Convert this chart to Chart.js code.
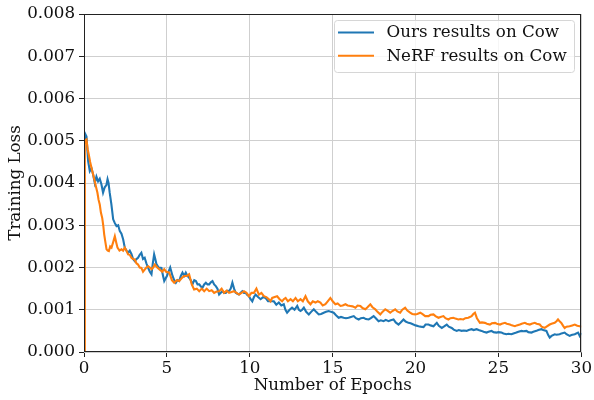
<!DOCTYPE html>
<html>
<head>
<meta charset="utf-8">
<script src="https://cdn.jsdelivr.net/npm/chart.js@4/dist/chart.umd.min.js"></script>
<style>
  html, body { margin: 0; padding: 0; background: #fff; }
  canvas { display: block; }
</style>
</head>
<body>
<canvas id="c" width="594" height="400"></canvas>
<script>
// ---- data (epoch, training loss) ----
const seriesLabels = ["Ours results on Cow", "NeRF results on Cow"];
const xTicks = [0, 5, 10, 15, 20, 25, 30];
const yTicks = [0, 0.001, 0.002, 0.003, 0.004, 0.005, 0.006, 0.007, 0.008];

const oursLoss = [
[0,0.0050],[0.05,0.00518],[0.15,0.0051],[0.25,0.00452],[0.35,0.00428],[0.45,0.00435],[0.55,0.0042],[0.65,0.0040],[0.75,0.00415],[0.85,0.00404],[0.95,0.0041],[1.05,0.00397],[1.15,0.00377],[1.25,0.0039],[1.35,0.00395],[1.42,0.00409],[1.48,0.0040],[1.55,0.00377],[1.65,0.0035],[1.76,0.00314],[1.86,0.00305],[1.96,0.00298],[2.06,0.0030],[2.16,0.00286],[2.26,0.0028],[2.36,0.00267],[2.46,0.00247],[2.56,0.0024],[2.66,0.00235],[2.76,0.0024],[2.86,0.00232],[2.96,0.0022],[3.06,0.00215],[3.16,0.0022],[3.26,0.00223],[3.36,0.0023],[3.46,0.00235],[3.56,0.0022],[3.66,0.00223],[3.76,0.0021],[3.87,0.00199],[3.97,0.0019],[4.07,0.00184],[4.15,0.0021],[4.23,0.00231],[4.3,0.0022],[4.37,0.00208],[4.5,0.0020],[4.67,0.00199],[4.77,0.0018],[4.84,0.00168],[5.0,0.0018],[5.1,0.0019],[5.2,0.0020],[5.34,0.0018],[5.44,0.0017],[5.54,0.00164],[5.64,0.0017],[5.74,0.00168],[5.84,0.0018],[5.94,0.00188],[6.04,0.0018],[6.14,0.00188],[6.24,0.0018],[6.34,0.00176],[6.44,0.0017],[6.54,0.0016],[6.65,0.0017],[6.75,0.00168],[6.85,0.0016],[6.95,0.0016],[7.05,0.00155],[7.14,0.00152],[7.25,0.0016],[7.35,0.00164],[7.45,0.0016],[7.55,0.0016],[7.65,0.00165],[7.75,0.00168],[7.85,0.0016],[7.95,0.00156],[8.05,0.0015],[8.15,0.00136],[8.25,0.0014],[8.35,0.00144],[8.45,0.0014],[8.55,0.0014],[8.65,0.00145],[8.75,0.00144],[8.85,0.0015],[8.95,0.00164],[9.05,0.0015],[9.15,0.0014],[9.25,0.00138],[9.35,0.00136],[9.45,0.0014],[9.55,0.00144],[9.65,0.0014],[9.75,0.0014],[9.85,0.00135],[9.95,0.00132],[10.05,0.00125],[10.15,0.0012],[10.25,0.0013],[10.35,0.00136],[10.5,0.0013],[10.65,0.00125],[10.8,0.0013],[10.95,0.00128],[11.1,0.0012],[11.25,0.0012],[11.45,0.0012],[11.6,0.00112],[11.75,0.00117],[11.9,0.0011],[12.05,0.00113],[12.15,0.001],[12.25,0.00093],[12.4,0.001],[12.55,0.00105],[12.7,0.001],[12.86,0.00109],[12.96,0.001],[13.06,0.00097],[13.16,0.001],[13.26,0.00105],[13.4,0.00095],[13.56,0.00089],[13.7,0.00095],[13.86,0.00101],[14.0,0.00095],[14.16,0.00089],[14.3,0.0009],[14.46,0.00093],[14.6,0.00095],[14.76,0.00097],[14.9,0.00095],[15.06,0.00093],[15.2,0.00087],[15.36,0.00081],[15.5,0.00083],[15.66,0.00081],[15.8,0.0008],[15.96,0.00081],[16.1,0.00083],[16.27,0.00085],[16.4,0.0008],[16.57,0.00077],[16.7,0.0008],[16.87,0.00081],[17.0,0.00078],[17.17,0.00077],[17.3,0.0008],[17.47,0.00085],[17.6,0.0008],[17.77,0.00073],[17.9,0.00075],[18.07,0.00073],[18.2,0.00076],[18.37,0.00073],[18.5,0.00075],[18.67,0.00077],[18.8,0.0007],[18.97,0.00065],[19.1,0.0007],[19.27,0.00077],[19.4,0.00072],[19.57,0.00069],[19.7,0.00068],[19.87,0.00065],[20.0,0.00063],[20.18,0.00061],[20.3,0.0006],[20.48,0.00059],[20.6,0.00065],[20.78,0.00065],[20.9,0.00063],[21.08,0.00061],[21.18,0.00065],[21.28,0.00069],[21.4,0.00062],[21.58,0.00057],[21.7,0.0006],[21.88,0.00065],[22.0,0.0006],[22.18,0.00057],[22.3,0.00053],[22.48,0.0005],[22.6,0.00052],[22.78,0.0005],[22.9,0.00051],[23.08,0.0005],[23.2,0.00052],[23.38,0.00054],[23.5,0.00052],[23.68,0.00054],[23.8,0.00052],[23.98,0.0005],[24.1,0.00048],[24.28,0.00046],[24.4,0.00048],[24.58,0.0005],[24.7,0.00047],[24.88,0.00046],[25.0,0.00047],[25.18,0.00046],[25.3,0.00044],[25.48,0.00042],[25.6,0.00043],[25.78,0.00042],[25.9,0.00044],[26.08,0.00046],[26.2,0.00048],[26.39,0.0005],[26.5,0.00049],[26.69,0.0005],[26.8,0.00047],[26.99,0.00046],[27.1,0.00048],[27.29,0.0005],[27.4,0.00052],[27.59,0.00054],[27.7,0.00052],[27.89,0.0005],[28.0,0.0004],[28.09,0.00034],[28.2,0.00038],[28.39,0.00042],[28.5,0.00041],[28.69,0.00042],[28.8,0.00044],[28.99,0.00046],[29.1,0.00042],[29.29,0.00038],[29.4,0.0004],[29.6,0.00042],[29.8,0.00046],[29.9,0.00038],[30,0.00045]
];

const nerfLoss = [
[0,0.0],[0.05,0.0050],[0.15,0.00503],[0.22,0.0048],[0.29,0.00467],[0.37,0.0045],[0.45,0.00436],[0.55,0.0042],[0.65,0.00404],[0.73,0.0039],[0.81,0.00377],[0.88,0.0036],[0.95,0.00349],[1.02,0.0033],[1.1,0.00317],[1.16,0.003],[1.22,0.00278],[1.29,0.0026],[1.36,0.00243],[1.43,0.0024],[1.5,0.00239],[1.58,0.0025],[1.66,0.00247],[1.76,0.0026],[1.86,0.00274],[1.94,0.0026],[2.02,0.00247],[2.14,0.0024],[2.26,0.00243],[2.36,0.0024],[2.46,0.00247],[2.56,0.0024],[2.66,0.00231],[2.76,0.0023],[2.86,0.00223],[2.96,0.0022],[3.06,0.00219],[3.16,0.0021],[3.26,0.00207],[3.36,0.002],[3.46,0.00199],[3.56,0.0019],[3.66,0.00195],[3.76,0.002],[3.87,0.00203],[3.97,0.002],[4.07,0.00196],[4.17,0.002],[4.27,0.00207],[4.42,0.002],[4.57,0.00195],[4.72,0.0019],[4.84,0.00196],[4.95,0.0019],[5.14,0.00188],[5.3,0.0017],[5.44,0.00164],[5.6,0.0017],[5.74,0.00168],[5.9,0.00175],[6.04,0.0018],[6.2,0.0018],[6.34,0.00184],[6.5,0.0016],[6.64,0.00148],[6.8,0.0015],[6.95,0.00144],[7.1,0.0015],[7.25,0.00144],[7.4,0.0015],[7.55,0.00144],[7.7,0.00146],[7.85,0.0014],[8.0,0.00143],[8.15,0.00144],[8.3,0.0015],[8.45,0.0014],[8.6,0.00145],[8.75,0.0014],[8.9,0.00142],[9.05,0.00144],[9.2,0.0014],[9.35,0.00136],[9.5,0.0014],[9.65,0.00144],[9.8,0.0014],[9.95,0.00132],[10.1,0.0014],[10.25,0.0014],[10.4,0.0015],[10.55,0.00136],[10.7,0.0014],[10.85,0.00132],[11.0,0.0013],[11.15,0.00125],[11.25,0.0012],[11.35,0.00128],[11.5,0.0013],[11.65,0.00132],[11.8,0.00125],[11.95,0.0012],[12.05,0.00125],[12.16,0.00128],[12.3,0.0012],[12.46,0.00125],[12.6,0.0012],[12.76,0.00128],[12.9,0.0012],[13.06,0.00125],[13.2,0.0012],[13.36,0.00132],[13.5,0.0012],[13.66,0.00113],[13.8,0.0012],[13.96,0.00117],[14.1,0.0012],[14.26,0.00117],[14.4,0.0011],[14.56,0.00113],[14.7,0.0012],[14.86,0.00128],[15.0,0.0012],[15.16,0.00113],[15.3,0.00115],[15.47,0.00109],[15.6,0.0011],[15.77,0.00113],[15.9,0.0011],[16.07,0.00109],[16.2,0.00108],[16.37,0.00105],[16.5,0.0011],[16.67,0.00109],[16.8,0.00104],[16.97,0.00101],[17.1,0.00106],[17.27,0.00113],[17.4,0.00106],[17.57,0.00101],[17.7,0.00095],[17.87,0.00089],[18.0,0.00095],[18.17,0.00101],[18.3,0.00098],[18.47,0.00093],[18.6,0.00097],[18.77,0.00101],[18.9,0.00096],[19.07,0.00093],[19.2,0.001],[19.37,0.00105],[19.5,0.00098],[19.67,0.00093],[19.8,0.0009],[19.97,0.00089],[20.1,0.0009],[20.28,0.00093],[20.4,0.0009],[20.58,0.00085],[20.78,0.00085],[20.9,0.00088],[21.08,0.00089],[21.2,0.00085],[21.38,0.00081],[21.5,0.00083],[21.68,0.00085],[21.8,0.0008],[21.98,0.00077],[22.1,0.0008],[22.28,0.00081],[22.4,0.00079],[22.58,0.00077],[22.7,0.00078],[22.88,0.00077],[23.0,0.0008],[23.18,0.00081],[23.38,0.00085],[23.48,0.0009],[23.58,0.00093],[23.7,0.0008],[23.88,0.00069],[24.0,0.0007],[24.18,0.00069],[24.3,0.00067],[24.48,0.00065],[24.6,0.00068],[24.79,0.00069],[24.9,0.00067],[25.09,0.00065],[25.2,0.00067],[25.39,0.00069],[25.5,0.00067],[25.69,0.00065],[25.8,0.00063],[25.99,0.00061],[26.1,0.00063],[26.29,0.00065],[26.4,0.00067],[26.59,0.00069],[26.7,0.00067],[26.89,0.00065],[27.0,0.00067],[27.19,0.00069],[27.3,0.00067],[27.49,0.00065],[27.6,0.0006],[27.79,0.00057],[27.9,0.0006],[28.09,0.00065],[28.2,0.00067],[28.39,0.00069],[28.5,0.00073],[28.59,0.00077],[28.7,0.00072],[28.79,0.00069],[28.9,0.00062],[28.99,0.00057],[29.1,0.0006],[29.29,0.00061],[29.45,0.00063],[29.6,0.00065],[29.75,0.00062],[29.9,0.00061],[30,0.0006]
];

// ---- chart ----
const FONT = "'DejaVu Serif', serif";
const FS = 16.7;
const toPts = arr => arr.map(p => ({ x: p[0], y: p[1] }));

const frameAndLegend = {
  id: 'frameAndLegend',
  afterDatasetsDraw(chart) {
    const { ctx, chartArea: a } = chart;
    ctx.save();
    ctx.strokeStyle = '#222';
    ctx.lineWidth = 1;
    ctx.strokeRect(Math.round(a.left) + 0.5, Math.round(a.top) + 0.5,
                   Math.round(a.right - a.left) - 1, Math.round(a.bottom - a.top) - 1);
    ctx.restore();
  },
  afterDraw(chart) {
    const { ctx, chartArea: a } = chart;
    const ds = chart.data.datasets;
    ctx.save();
    const bx = 334.5, by = 20.5, bw = 240, bh = 52, r = 3;
    ctx.beginPath();
    ctx.moveTo(bx + r, by);
    ctx.arcTo(bx + bw, by, bx + bw, by + bh, r);
    ctx.arcTo(bx + bw, by + bh, bx, by + bh, r);
    ctx.arcTo(bx, by + bh, bx, by, r);
    ctx.arcTo(bx, by, bx + bw, by, r);
    ctx.closePath();
    ctx.fillStyle = 'rgba(255,255,255,0.8)';
    ctx.fill();
    ctx.strokeStyle = '#d6d6d6';
    ctx.lineWidth = 1;
    ctx.stroke();
    ctx.font = FS + 'px ' + FONT;
    ctx.textBaseline = 'middle';
    ctx.fillStyle = '#111';
    ds.forEach((d, i) => {
      const y = 32.5 + i * 23.3;
      ctx.strokeStyle = d.borderColor;
      ctx.lineWidth = 2.1;
      ctx.beginPath();
      ctx.moveTo(338, y);
      ctx.lineTo(374, y);
      ctx.stroke();
      ctx.fillText(d.label, 386.5, y + 0.5);
    });
    ctx.restore();
  }
};

new Chart(document.getElementById('c'), {
  type: 'line',
  data: {
    datasets: [
      { label: seriesLabels[0], data: toPts(oursLoss), borderColor: '#1f77b4',
        borderWidth: 2.1, pointRadius: 0, tension: 0, fill: false, order: 1 },
      { label: seriesLabels[1], data: toPts(nerfLoss), borderColor: '#ff7f0e',
        borderWidth: 2.1, pointRadius: 0, tension: 0, fill: false, order: 0 }
    ]
  },
  options: {
    responsive: false,
    animation: false,
    events: [],
    layout: { padding: { top: 13, right: 12, left: 0, bottom: 0 } },
    plugins: { legend: { display: false }, tooltip: { enabled: false } },
    scales: {
      x: {
        type: 'linear', min: 0, max: 30,
        afterBuildTicks: s => { s.ticks = xTicks.map(v => ({ value: v })); },
        afterFit: s => { s.height = 48; },
        ticks: { font: { family: FONT, size: FS }, color: '#111', padding: 2,
                 maxRotation: 0, callback: v => String(v) },
        grid: { color: '#cfcfcf', lineWidth: 1, tickLength: 5, tickColor: '#222', drawTicks: true },
        border: { display: false },
        title: { display: true, text: 'Number of Epochs', font: { family: FONT, size: FS },
                 color: '#111', padding: { top: 0, bottom: 4.5 } }
      },
      y: {
        type: 'linear', min: 0, max: 0.008,
        afterBuildTicks: s => { s.ticks = yTicks.map(v => ({ value: v })); },
        afterFit: s => { s.width = 84; },
        ticks: { font: { family: FONT, size: FS }, color: '#111', padding: 4,
                 callback: v => Number(v).toFixed(3) },
        grid: { color: '#cfcfcf', lineWidth: 1, tickLength: 5, tickColor: '#222', drawTicks: true },
        border: { display: false },
        title: { display: true, text: 'Training Loss', font: { family: FONT, size: FS },
                 color: '#111', padding: { top: 5.5, bottom: 0 } }
      }
    }
  },
  plugins: [frameAndLegend]
});
</script>
</body>
</html>
